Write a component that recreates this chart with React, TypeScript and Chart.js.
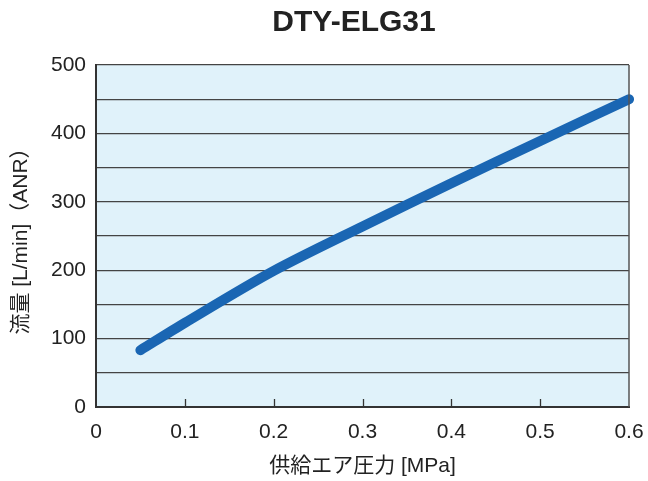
import React, { useEffect, useRef } from "react";
import { Chart, registerables } from "chart.js";

Chart.register(...registerables);

const chartTitle = "DTY-ELG31";
const xAxisTitle = "供給エア圧力 [MPa]";
const yAxisTitle = "流量 [L/min]（ANR）";
const pressure = [0.05, 0.1, 0.2, 0.3, 0.4, 0.5, 0.6];
const flow = [83, 123, 199, 264, 327, 389, 450];
const yLabelTicks = [0, 100, 200, 300, 400, 500];

const FONT = "'Liberation Sans', 'Noto Sans CJK JP', Arial, sans-serif";

const decorPlugin = {
  id: "decor",
  beforeDraw(chart: any) {
    const { ctx, chartArea } = chart;
    ctx.save();
    ctx.fillStyle = "#e0f2fa";
    ctx.fillRect(chartArea.left, chartArea.top, chartArea.right - chartArea.left, chartArea.bottom - chartArea.top);
    ctx.restore();
  },
  afterDraw(chart: any) {
    const { ctx, chartArea } = chart;
    const xs = chart.scales.x;
    ctx.save();
    ctx.strokeStyle = "#555";
    ctx.lineWidth = 1.5;
    ctx.beginPath();
    ctx.moveTo(chartArea.right, chartArea.top);
    ctx.lineTo(chartArea.right, chartArea.bottom);
    ctx.stroke();
    ctx.strokeStyle = "#333";
    ctx.lineWidth = 1.3;
    xs.ticks.forEach((t: any) => {
      if (t.value <= xs.min + 1e-9 || t.value >= xs.max - 1e-9) return;
      const px = Math.round(xs.getPixelForValue(t.value)) + 0.5;
      ctx.beginPath();
      ctx.moveTo(px, chartArea.bottom);
      ctx.lineTo(px, chartArea.bottom - 8);
      ctx.stroke();
    });
    ctx.fillStyle = "#222";
    ctx.font = `bold 30px ${FONT}`;
    ctx.textAlign = "center";
    ctx.textBaseline = "middle";
    ctx.fillText(chartTitle, 354, 23);
    ctx.restore();
  },
};

export default function App() {
  const ref = useRef<HTMLCanvasElement>(null);
  useEffect(() => {
    if (!ref.current) return;
    const chart = new Chart(ref.current, {
      type: "line",
      data: {
        datasets: [
          {
            data: pressure.map((p, i) => ({ x: p, y: flow[i] })),
            borderColor: "#1a66b3",
            borderWidth: 10,
            borderCapStyle: "round",
            borderJoinStyle: "round",
            pointRadius: 0,
            tension: 0.3,
            fill: false,
            clip: 6,
          } as any,
        ],
      },
      plugins: [decorPlugin],
      options: {
        responsive: false,
        animation: false,
        events: [],
        layout: { padding: { top: 65, right: 19, left: 0, bottom: 0 } },
        plugins: { legend: { display: false }, title: { display: false }, tooltip: { enabled: false } },
        scales: {
          x: {
            type: "linear",
            min: 0,
            max: 0.6,
            afterFit: (s: any) => { s.height = 74; s.paddingRight = 0; s.paddingLeft = 0; },
            ticks: {
              stepSize: 0.1,
              padding: 13,
              color: "#222",
              font: { family: FONT, size: 21 },
              callback: (v: any) => (Math.round(Number(v) * 10) / 10).toString(),
            },
            grid: { display: false, drawTicks: false },
            border: { display: true, color: "#333", width: 2 },
            title: {
              display: true,
              text: xAxisTitle,
              color: "#222",
              font: { family: FONT, size: 21 },
              padding: { top: 0, bottom: 2 },
            },
          },
          y: {
            min: 0,
            max: 500,
            afterFit: (s: any) => { s.width = 96; s.paddingTop = 0; s.paddingBottom = 0; },
            ticks: {
              stepSize: 50,
              padding: 10,
              color: "#222",
              font: { family: FONT, size: 21 },
              callback: (v: any) => (yLabelTicks.includes(Number(v)) ? String(v) : ""),
            },
            grid: { color: "#444", lineWidth: 1.2, drawTicks: false },
            border: { display: true, color: "#333", width: 2 },
            title: {
              display: true,
              text: yAxisTitle,
              color: "#222",
              font: { family: FONT, size: 21 },
              padding: { top: 9, bottom: 0 },
            },
          },
        },
      } as any,
    });
    return () => chart.destroy();
  }, []);
  return (
    <div style={{ position: "absolute", left: 0, top: 0, width: 648, height: 481, background: "#fff" }}>
      <canvas ref={ref} width={648} height={481} />
    </div>
  );
}
